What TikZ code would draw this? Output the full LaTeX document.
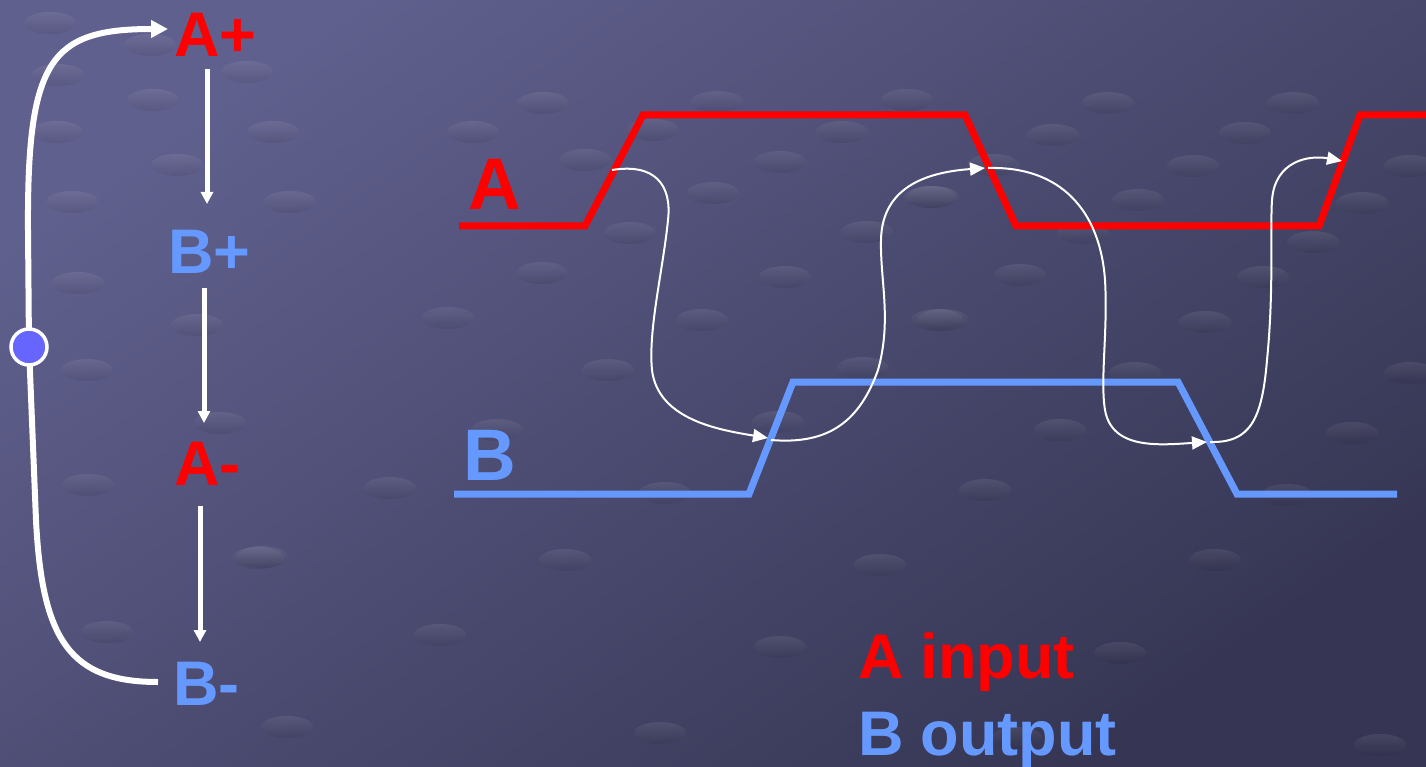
\documentclass[tikz,border=0pt]{standalone}
\usepackage{fontspec}
\setmainfont{Liberation Sans}
\usetikzlibrary{arrows.meta}
\definecolor{bgtop}{RGB}{96,96,142}
\definecolor{bgbot}{RGB}{54,54,84}
\definecolor{sigred}{RGB}{255,0,0}
\definecolor{sigblue}{RGB}{102,153,255}
\definecolor{dotblue}{RGB}{102,102,255}
\begin{document}
\begin{tikzpicture}[x=1pt,y=-1pt,
  lbl/.style={inner sep=0pt,outer sep=0pt,anchor=base west,font=\fontsize{63}{70}\selectfont\bfseries},
  biglbl/.style={lbl,font=\fontsize{73}{80}\selectfont\bfseries},
  flow/.style={white,line width=5pt,-{Triangle[length=12pt,width=12pt]}},
  loopline/.style={white,line width=6pt},
  sig/.style={line width=7pt,line join=miter},
  hop/.style={white,line width=2pt,-{Triangle[length=15pt,width=13pt]}},
  bgdot/.style={top color=white,bottom color=black,opacity=0.08},
]
\useasboundingbox (0,0) rectangle (1426,767);
\shade[top color=bgtop,bottom color=bgbot,shading angle=35] (0,0) rectangle (1426,767);
% background dots of the template
\foreach \px/\py in {50/23,150/45,247/72,58/75,153/100,57/132,177/165,273/132,72/202,290/202,78/283,197/325,87/370,
  220/423,88/485,258/558,107/632,287/727,
  543/103,473/132,653/130,717/102,842/132,907/100,585/160,780/162,713/193,630/233,867/232,542/273,785/277,933/197,
  448/318,702/320,937/320,608/370,863/368,497/430,778/422,665/493,
  1108/103,1293/103,1053/135,1245/133,993/165,1193/166,1410/166,930/197,1138/200,1362/203,1083/233,1313/242,
  1020/275,1263/277,943/320,1205/322,1135/373,1410/373,1060/430,1352/433,985/490,1287/495,
  1120/653,1017/738,262/557,565/560,880/565,1215/560,440/635,780/647,660/733,1380/745,390/488}
  \shade[bgdot] (\px,\py) ellipse [x radius=26pt,y radius=11pt];

% sequence labels
\node[lbl,text=sigred] (Ap) at (174,57) {A+};
\node[lbl,text=sigblue] (Bp) at (168,273) {B+};
\node[lbl,text=sigred] (Am) at (174,485) {A-};
\node[lbl,text=sigblue] (Bm) at (173,705) {B-};

% sequence arrows
\coordinate (f1s) at (207,69);  \coordinate (f1e) at (207,204);
\coordinate (f2s) at (204,288); \coordinate (f2e) at (204,423);
\coordinate (f3s) at (200,506); \coordinate (f3e) at (200,642);
\draw[flow] (f1s) -- (f1e);
\draw[flow] (f2s) -- (f2e);
\draw[flow] (f3s) -- (f3e);

% return loop
\coordinate (ls) at (158,682);
\coordinate (le) at (168,29);
\coordinate (dc) at (29,347);
\draw[loopline,-{Triangle[length=17pt,width=17pt]}]
  (ls) .. controls (70,682) and (42,640) .. (36,520)
  -- (dc) -- (28,230)
  .. controls (27,60) and (50,29) .. (le);
\node[circle,draw=white,line width=3.5pt,fill=dotblue,minimum size=36pt,inner sep=0pt] (dot) at (dc) {};

% waveform labels
\node[biglbl,text=sigred] (lA) at (468,210) {A};
\node[biglbl,text=sigblue] (lB) at (463,480) {B};

% waveforms
\coordinate (a0) at (459,226); \coordinate (a1) at (585,226); \coordinate (a2) at (643,115);
\coordinate (a3) at (965,115); \coordinate (a4) at (1016,226); \coordinate (a5) at (1319,226);
\coordinate (a6) at (1360,115); \coordinate (a7) at (1430,115);
\draw[sig,sigred] (a0) -- (a1) -- (a2) -- (a3) -- (a4) -- (a5) -- (a6) -- (a7);
\coordinate (b0) at (454,494); \coordinate (b1) at (749,494); \coordinate (b2) at (793,382);
\coordinate (b3) at (1178,382); \coordinate (b4) at (1237,494); \coordinate (b5) at (1397,494);
\draw[sig,sigblue] (b0) -- (b1) -- (b2) -- (b3) -- (b4) -- (b5);

% cause-effect hops
\coordinate (h1s) at (612,170); \coordinate (h1e) at (768,438);
\coordinate (h2s) at (771,440); \coordinate (h2e) at (985,168);
\coordinate (h3s) at (988,168); \coordinate (h3e) at (1207,442);
\coordinate (h4s) at (1210,442); \coordinate (h4e) at (1342,161);
\draw[hop] (h1s) .. controls (655,163) and (672,185) .. (668,220)
  .. controls (663,270) and (648,330) .. (652,370)
  .. controls (658,420) and (720,430) .. (h1e);
\draw[hop] (h2s) .. controls (830,445) and (860,420) .. (878,370)
  .. controls (892,320) and (880,280) .. (881,240)
  .. controls (882,185) and (930,172) .. (h2e);
\draw[hop] (h3s) .. controls (1060,166) and (1100,210) .. (1105,280)
  .. controls (1108,330) and (1100,380) .. (1105,410)
  .. controls (1112,450) and (1160,445) .. (h3e);
\draw[hop] (h4s) .. controls (1250,443) and (1262,420) .. (1267,360)
  .. controls (1274,290) and (1270,230) .. (1272,200)
  .. controls (1275,160) and (1310,155) .. (h4e);

% legend
\node[lbl,text=sigred] (legA) at (858,678) {A input};
\node[lbl,text=sigblue] (legB) at (858,755) {B output};
\end{tikzpicture}
\end{document}
